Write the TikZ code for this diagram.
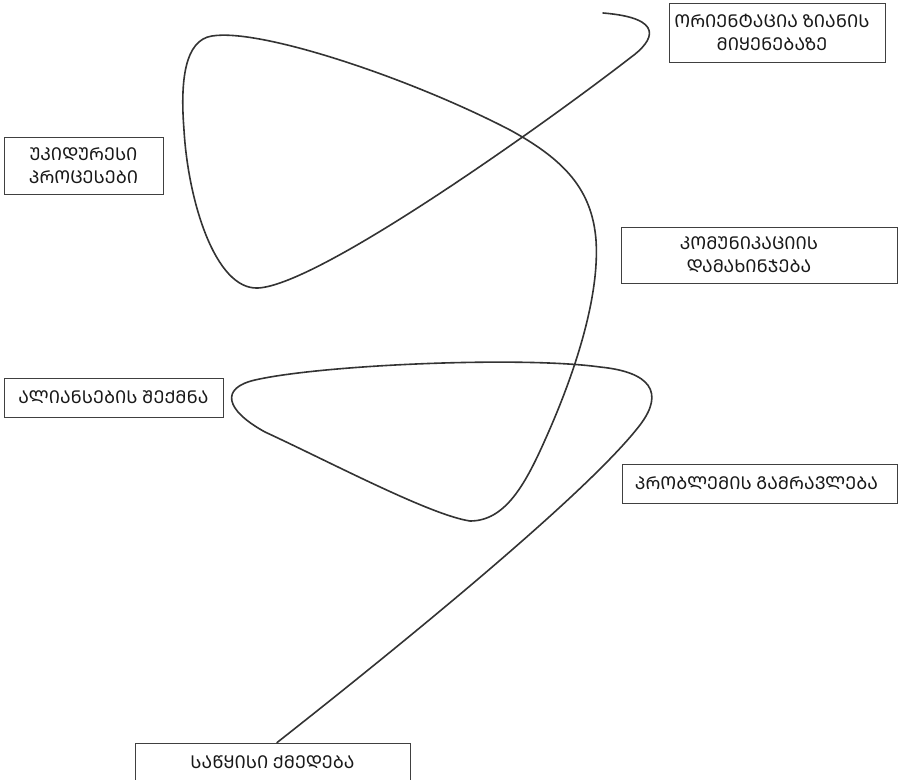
\documentclass[tikz,border=0pt]{standalone}
\usepackage{fontspec}
\newfontfamily\geo[Script=Georgian]{Noto Sans Georgian}
\tikzset{
  lbl/.style={draw=black!75, line width=0.8pt, fill=white, align=center, inner sep=0pt,
    font=\geo\fontsize{17.7}{23}\selectfont, text=black!90},
  path/.style={draw=black!80, line width=1.6pt, line cap=round}
}
\begin{document}
\begin{tikzpicture}[x=1pt,y=-1pt]
\useasboundingbox (0,0) rectangle (899,779);
\fill[white] (0,0) rectangle (899,779);
\begin{scope}
\clip (0,0) rectangle (899,779);
\node[lbl, minimum width=216pt, minimum height=59pt] (b1) at (777,32.5) {ᲝᲠᲘᲔᲜᲢᲐᲪᲘᲐ ᲖᲘᲐᲜᲘᲡ\hspace*{10pt}\\ᲛᲘᲧᲔᲜᲔᲑᲐᲖᲔ\hspace*{10pt}};
\node[lbl, minimum width=159pt, minimum height=57pt] (b2) at (83.5,165.5) {ᲣᲙᲘᲓᲣᲠᲔᲡᲘ\\ᲞᲠᲝᲪᲔᲡᲔᲑᲘ};
\node[lbl, minimum width=276pt, minimum height=56pt] (b3) at (759,255) {ᲙᲝᲛᲣᲜᲘᲙᲐᲪᲘᲘᲡ\hspace*{20pt}\\ᲓᲐᲛᲐᲮᲘᲜᲯᲔᲑᲐ\hspace*{20pt}};
\node[lbl, minimum width=219pt, minimum height=39pt] (b4) at (113.5,397.5) {ᲐᲚᲘᲐᲜᲡᲔᲑᲘᲡ ᲨᲔᲥᲛᲜᲐ};
\node[lbl, minimum width=275pt, minimum height=39pt] (b5) at (759.5,483.5) {ᲞᲠᲝᲑᲚᲔᲛᲘᲡ ᲒᲐᲛᲠᲐᲕᲚᲔᲑᲐ\hspace*{6pt}};
\node[lbl, minimum width=275pt, minimum height=39pt] (b6) at (272.5,762.5) {ᲡᲐᲬᲧᲘᲡᲘ ᲥᲛᲔᲓᲔᲑᲐ};
\coordinate (s) at ([xshift=4.5pt]b6.north);
\coordinate (e) at (603,13);
\draw[path] (s)
  .. controls (420,630) and (590,490) .. (640,425)
  .. controls (665,392) and (650,372) .. (600,367)
  .. controls (520,356) and (320,365) .. (255,380)
  .. controls (220,388) and (225,410) .. (265,432)
  .. controls (330,462) and (430,515) .. (470,521)
  .. controls (505,521) and (525,485) .. (545,440)
  .. controls (572,380) and (600,300) .. (596,240)
  .. controls (592,190) and (565,160) .. (510,130)
  .. controls (410,78) and (260,28) .. (212,36)
  .. controls (185,40) and (180,80) .. (184,130)
  .. controls (188,200) and (215,290) .. (258,288)
  .. controls (320,285) and (550,120) .. (630,58)
  .. controls (655,40) and (665,18) .. (e);
\end{scope}
\end{tikzpicture}
\end{document}
